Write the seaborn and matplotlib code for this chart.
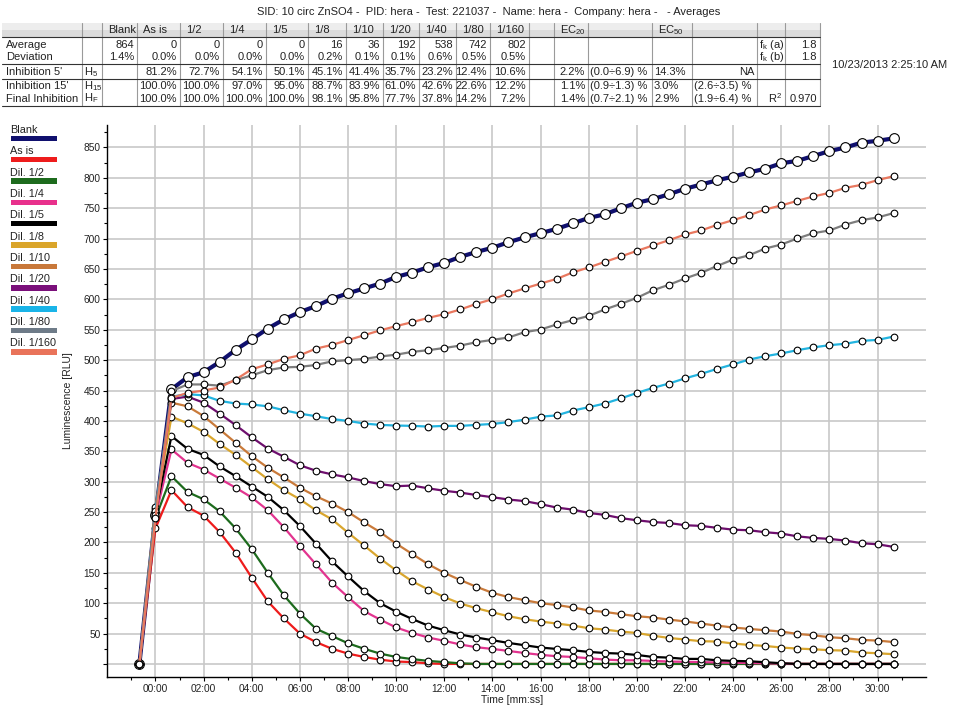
import numpy as np
import pandas as pd
import matplotlib
matplotlib.use('Agg')
import matplotlib.pyplot as plt
import seaborn as sns
from matplotlib.ticker import FixedLocator, FuncFormatter
from matplotlib.patches import Rectangle

# sample times in seconds (a reading every 40 s)
time_s = [-40, 0, 40, 80, 120, 160, 200, 240, 280, 320, 360, 400, 440, 480, 520, 560,
          600, 640, 680, 720, 760, 800, 840, 880, 920, 960, 1000, 1040, 1080, 1120, 1160, 1200,
          1240, 1280, 1320, 1360, 1400, 1440, 1480, 1520, 1560, 1600, 1640, 1680, 1720, 1760, 1800, 1840]

# luminescence [RLU] per sample
blank = [0, 245, 452, 472, 480, 497, 517, 534, 552, 567, 579, 589, 601, 610, 618, 626,
         637, 644, 653, 660, 670, 678, 685, 694, 702, 709, 716, 725, 734, 740, 750, 759,
         765, 773, 782, 789, 796, 802, 809, 815, 824, 828, 836, 844, 850, 858, 861, 865]
as_is = [0, 223, 286, 258, 244, 217, 183, 142, 103, 75, 50, 36, 25, 17, 11.5, 7,
         4, 3, 1, 0, 0, 0, 0, 0, 0, 0, 0, 0, 0, 0, 0, 0,
         0, 0, 0, 0, 0, 0, 0, 0, 0, 0, 0, 0, 0, 0, 0, 0]
dil_2 = [0, 240, 309, 283, 271, 251, 223, 189, 150, 113, 83, 58, 46, 34, 25, 17,
         11.5, 8, 5, 3, 1, 0, 0, 0, 0, 0, 0, 0, 0, 0, 0, 0,
         0, 0, 0, 0, 0, 0, 0, 0, 0, 0, 0, 0, 0, 0, 0, 0]
dil_4 = [0, 243, 353, 331, 320, 305, 290, 274, 253, 225, 194, 164, 134, 110, 87, 73,
         60, 51, 43.5, 38, 32, 27.5, 24.7, 21.4, 18, 15, 12.7, 11.5, 9.4, 7.2, 6, 6,
         5, 4, 3.5, 3, 2.5, 2, 1.5, 1, 0.5, 0, 0, 0, 0, 0, 0, 0]
dil_5 = [0, 250, 375, 354, 344, 325, 309, 292, 275, 253, 227, 198, 169, 144, 120, 100,
         86, 74, 63, 55.5, 48.4, 43.5, 39, 34.6, 30.8, 27, 24.7, 22.6, 19.8, 18, 17, 14.8,
         11.5, 10.4, 8.3, 8.3, 6, 5, 4.4, 2.8, 1.2, 0, 0, 0, 0, 0, 0, 0]
dil_8 = [0, 255, 407, 396, 382, 362, 344, 324, 304, 286, 271, 253, 238, 216, 195, 173.5,
         154, 136, 122.5, 110, 99.4, 91.7, 85, 78.5, 73.6, 69.8, 66.5, 63.2, 58.8, 56.6, 53.3, 51,
         46.5, 42.8, 40.2, 37.4, 36.9, 33.6, 31.3, 29.6, 27, 25.3, 24.2, 22.6, 22, 18.8, 17.6, 16]
dil_10 = [0, 258, 430, 424, 408, 386, 364, 342, 323, 307, 290, 276, 264, 250, 233, 217,
          198, 181, 164, 150, 138, 127, 117, 110, 105, 100, 97, 93, 88, 85.6, 82, 78.5,
          76.4, 73, 70, 66.5, 63, 60, 57.6, 55.5, 53.3, 49.4, 47.2, 44, 42.3, 39.5, 38.5, 36]
dil_20 = [0, 248, 436, 440, 430, 412, 393, 373, 354.5, 341, 327, 318, 312, 307, 301, 296,
          292.5, 293.6, 289, 285, 282, 278, 274.4, 270.6, 268, 263, 257.4, 254, 248.6, 245.3, 240, 236.5,
          233.5, 232, 228.3, 227.2, 224, 221, 220, 216.8, 214.6, 210, 207.4, 205.8, 203, 198.7, 197, 192.6]
dil_40 = [0, 252, 440, 444, 442, 433, 428.6, 427, 424, 417.6, 412, 407.7, 403, 400, 395.7, 393.4,
          392.4, 391.8, 390.7, 391.8, 391.8, 393.4, 395, 398, 402, 407, 409, 417, 422.5, 428.6, 437, 446,
          454.3, 461.5, 470, 477.4, 485.6, 493, 501, 506.5, 511, 516.4, 521, 524.6, 527, 531.7, 533.3, 538.8]
dil_80 = [0, 245, 449, 460, 460, 458, 467, 475, 483.5, 488, 489, 492, 498, 500, 502, 506,
          509, 513.6, 516.4, 520, 524, 529.5, 533.3, 537.3, 546, 550.4, 558.7, 565.8, 572.8, 583.4, 592.6, 602.5,
          615, 624, 634.4, 643.6, 655, 665.6, 672.7, 683.7, 690.3, 700.2, 709, 713.4, 723.2, 730.4, 734.8, 742]
dil_160 = [0, 240, 438, 446, 450, 455, 468, 485, 493, 502, 508, 519, 525, 533, 541, 549,
           556, 562.5, 569.6, 575.6, 583.4, 592.6, 600.3, 609.7, 618, 626, 633.7, 644.3, 652.5, 661.7, 670.6, 679.8,
           688.7, 697.4, 706.8, 713.4, 722.6, 730.4, 738.6, 748, 754.6, 762.2, 769.4, 775.3, 783.6, 788.5, 796.2, 802.8]

names = ['Blank', 'As is', 'Dil. 1/2', 'Dil. 1/4', 'Dil. 1/5', 'Dil. 1/8',
         'Dil. 1/10', 'Dil. 1/20', 'Dil. 1/40', 'Dil. 1/80', 'Dil. 1/160']
series = [blank, as_is, dil_2, dil_4, dil_5, dil_8, dil_10, dil_20, dil_40, dil_80, dil_160]
line_colors = ['#10106e', '#ee1c1c', '#1d6b1d', '#e2348f', '#000000', '#d9a62e',
               '#c97a3a', '#6e0f6e', '#22b4e0', '#7d7d7d', '#e9785f']
legend_colors = ['#10106e', '#ee1c1c', '#1d6b1d', '#e8308c', '#000000', '#daa52a',
                 '#c8783a', '#7a0f7a', '#1ab4e8', '#6e7b88', '#e9735a']

# header table texts
title = 'SID: 10 circ ZnSO4 -  PID: hera -  Test: 221037 -  Name: hera -  Company: hera -   - Averages'
stamp = '10/23/2013 2:25:10 AM'
header = ['', '', 'Blank', 'As is', '1/2', '1/4', '1/5', '1/8', '1/10', '1/20', '1/40', '1/80', '1/160',
          '', 'EC$_{20}$', '', 'EC$_{50}$', '', '', '']
row_avg = ['Average', '', '864', '0', '0', '0', '0', '16', '36', '192', '538', '742', '802',
           '', '', '', '', '', 'f$_k$ (a)', '1.8']
row_dev = ['Deviation', '', '1.4%', '0.0%', '0.0%', '0.0%', '0.0%', '0.2%', '0.1%', '0.1%', '0.6%', '0.5%', '0.5%',
           '', '', '', '', '', 'f$_k$ (b)', '1.8']
row_h5 = ["Inhibition 5'", 'H$_5$', '', '81.2%', '72.7%', '54.1%', '50.1%', '45.1%', '41.4%', '35.7%', '23.2%',
          '12.4%', '10.6%', '', '2.2%', '(0.0÷6.9) %', '14.3%', 'NA', '', '']
row_h15 = ["Inhibition 15'", 'H$_{15}$', '', '100.0%', '100.0%', '97.0%', '95.0%', '88.7%', '83.9%', '61.0%',
           '42.6%', '22.6%', '12.2%', '', '1.1%', '(0.9÷1.3) %', '3.0%', '(2.6÷3.5) %', '', '']
row_hf = ['Final Inhibition', 'H$_F$', '', '100.0%', '100.0%', '100.0%', '100.0%', '98.1%', '95.8%', '77.7%',
          '37.8%', '14.2%', '7.2%', '', '1.4%', '(0.7÷2.1) %', '2.9%', '(1.9÷6.4) %', 'R$^2$', '0.970']

# long format for seaborn
df = pd.concat([pd.DataFrame({'time': np.array(time_s) / 60.0, 'value': v, 'sample': n})
                for n, v in zip(names, series)], ignore_index=True)

sns.set_theme(style='white')
plt.rcParams['font.family'] = ['Liberation Sans', 'DejaVu Sans']
plt.rcParams['mathtext.default'] = 'regular'

W, H = 966, 708
fig = plt.figure(figsize=(W / 100, H / 100), dpi=100)
ax = fig.add_axes([107.3 / W, 31.3 / H, 818.4 / W, 551.7 / H])

for n, c in zip(names, line_colors):
    big = n == 'Blank'
    sns.lineplot(data=df[df['sample'] == n], x='time', y='value', ax=ax,
                 color=c, linewidth=3.0 if big else 1.6,
                 marker='o', markersize=7 if big else 4.8,
                 markerfacecolor='white', markeredgecolor='black', markeredgewidth=0.8,
                 estimator=None, sort=False, legend=False)

ax.set_xlim(-2, 32)
ax.set_ylim(-21, 887)
ax.xaxis.set_major_locator(FixedLocator(list(range(0, 31, 2))))
ax.xaxis.set_minor_locator(FixedLocator(list(range(-1, 32, 2))))
ax.xaxis.set_major_formatter(FuncFormatter(lambda v, p: f'{int(round(v)):02d}:00'))
ax.yaxis.set_major_locator(FixedLocator(list(range(0, 851, 50))))
ax.yaxis.set_minor_locator(FixedLocator(list(range(25, 876, 50))))
ax.yaxis.set_major_formatter(FuncFormatter(lambda v, p: '' if v == 0 else f'{int(v)}'))

ax.grid(True, which='major', color='#c8c8c8', linewidth=1.2)
ax.set_axisbelow(True)
for s in ['top', 'right']:
    ax.spines[s].set_visible(False)
for s in ['left', 'bottom']:
    ax.spines[s].set_color('black')
    ax.spines[s].set_linewidth(1.0)

ax.tick_params(axis='both', which='both', bottom=True, left=True, direction='out',
               color='black', width=0.8, labelsize=7.3, labelcolor='#222222')
ax.tick_params(axis='both', which='major', length=3, pad=2)
ax.tick_params(axis='both', which='minor', length=2)

ax.set_xlabel('Time [mm:ss]', fontsize=7.5, color='#222222')
ax.set_ylabel('Luminescence [RLU]', fontsize=7.5, color='#222222')
ax.xaxis.set_label_coords(0.4945, -0.034)
ax.yaxis.set_label_coords(-0.0425, 0.5)

# overlay in pixel coordinates for table and legend
ov = fig.add_axes([0, 0, 1, 1])
ov.set_xlim(0, W)
ov.set_ylim(H, 0)
ov.axis('off')

fs = 8
ov.text(489, 12, title, ha='center', va='center', fontsize=fs, color='#222222')
ov.text(832, 65, stamp, ha='left', va='center', fontsize=fs, color='#222222')

borders = [2, 82, 102, 137, 180, 223, 266, 308, 346, 383, 419, 456, 490, 529, 554, 588, 652, 692, 757, 785, 820]
ov.add_patch(Rectangle((2, 23), 818, 7, fc='#ededed', ec='none'))
ov.add_patch(Rectangle((2, 30), 818, 7, fc='#dcdcdc', ec='none'))
for x in borders[1:]:
    ov.plot([x, x], [23, 106], color='#9a9a9a', lw=0.8)
for y in [37, 64, 79, 106]:
    ov.plot([2, 820], [y, y], color='#333333', lw=0.8)

for i, h in enumerate(header):
    if h:
        ov.text(borders[i] + 6, 30, h, ha='left', va='center', fontsize=fs, color='#222222')

rows = [(row_avg, 45), (row_dev, 57.3), (row_h5, 71.7), (row_h15, 86), (row_hf, 98.5)]
for row, yc in rows:
    for i, s in enumerate(row):
        if not s:
            continue
        left, right = borders[i], borders[i + 1]
        if i == 0:
            ov.text(left + 4, yc, s, ha='left', va='center', fontsize=fs, color='#222222')
        elif i == 1 or i == 15 or (i == 16) or (i == 17 and s != 'NA') or (i == 18 and s.startswith('f')):
            ov.text(left + 2, yc, s, ha='left', va='center', fontsize=fs, color='#222222')
        else:
            ov.text(right - 3, yc, s, ha='right', va='center', fontsize=fs, color='#222222')

# legend on the left
for i, (n, c) in enumerate(zip(names, legend_colors)):
    ov.text(10, 130 + 21.35 * i, n, ha='left', va='center', fontsize=7.8, color='#222222')
    ov.add_patch(Rectangle((11, 138.3 + 21.35 * i - 2.8), 46, 5.6, fc=c, ec='none'))

fig.savefig('out.png', dpi=100)
